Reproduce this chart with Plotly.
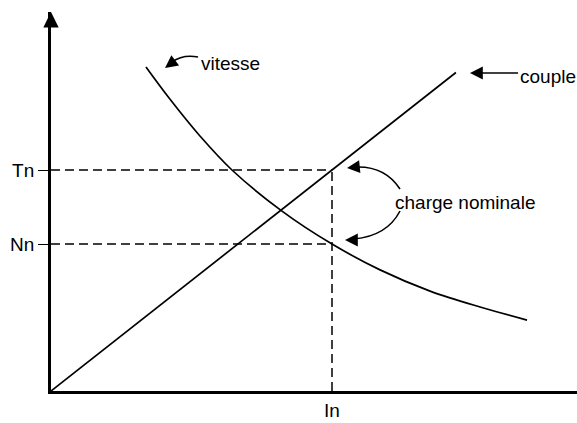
import plotly.graph_objects as go

# ---- data (normalised units: In = 1, Tn = 1) ----
I_n = 1.0
T_n = 1.0
N_n = 0.665

couple_I = [0.0, 1.441]
couple_T = [0.0, 1.441]

vitesse_I = [0.338, 0.423, 0.530, 0.644, 0.822, 1.000, 1.171, 1.349, 1.527, 1.694]
vitesse_N = [1.466, 1.321, 1.154, 1.000, 0.814, 0.665, 0.548, 0.452, 0.380, 0.321]

x_tick_vals = [I_n]
x_tick_text = ["In"]
y_tick_vals = [N_n, T_n]
y_tick_text = ["Nn", "Tn"]

# ---- layout geometry ----
W, H = 577, 423
ML, MR, MT, MB = 51, 0, 12, 32
PX_PER_X = 281.0
PX_PER_Y = 221.0
X_MAX = (W - ML - MR) / PX_PER_X
Y_MAX = (H - MT - MB) / PX_PER_Y


def dx(px):
    return (px - ML) / PX_PER_X


def dy(py):
    return (H - MB - py) / PX_PER_Y


FONT = "Arial, Liberation Sans, sans-serif"
FS = 19

fig = go.Figure()
fig.add_trace(go.Scatter(x=couple_I, y=couple_T, mode="lines",
                         line=dict(color="black", width=1.7),
                         hoverinfo="skip", showlegend=False))
fig.add_trace(go.Scatter(x=vitesse_I, y=vitesse_N, mode="lines",
                         line=dict(color="black", width=1.7, shape="spline", smoothing=1.0),
                         hoverinfo="skip", showlegend=False))

dash = dict(color="black", width=1.5, dash="9px,5px")
shapes = [
    dict(type="line", xref="x", yref="y", x0=0, y0=T_n, x1=I_n, y1=T_n, line=dash),
    dict(type="line", xref="x", yref="y", x0=0, y0=N_n, x1=I_n, y1=N_n, line=dash),
    dict(type="line", xref="x", yref="y", x0=I_n, y0=0, x1=I_n, y1=T_n, line=dash),
]


def qpath(p0, c, p1):
    return "M {},{} Q {},{} {},{}".format(dx(p0[0]), dy(p0[1]), dx(c[0]), dy(c[1]), dx(p1[0]), dy(p1[1]))


curve = dict(color="black", width=1.6)
# charge nominale arrows
shapes.append(dict(type="path", xref="x", yref="y", path=qpath((400, 189), (385, 166), (356, 167)), line=curve))
shapes.append(dict(type="path", xref="x", yref="y", path=qpath((400, 211), (387, 236), (354, 239)), line=curve))
# vitesse arrow
shapes.append(dict(type="path", xref="x", yref="y", path=qpath((198, 57), (183, 54), (172, 62)), line=curve))
# couple arrow
shapes.append(dict(type="line", xref="x", yref="y", x0=dx(518), y0=dy(73), x1=dx(478), y1=dy(73), line=curve))

annotations = []


def head(tx, ty, ax, ay, w=1.6, s=1.6):
    annotations.append(dict(x=dx(tx), y=dy(ty), xref="x", yref="y", ax=ax, ay=ay,
                            axref="pixel", ayref="pixel", text="", showarrow=True,
                            arrowhead=2, arrowsize=s, arrowwidth=w, arrowcolor="black", standoff=0))


head(347, 168, 10, -1)
head(345, 240, 10, 0)
head(165, 68, 8, -6)
head(470, 73, 10, 0)
# y axis arrow
annotations.append(dict(x=0, y=Y_MAX, xref="x", yref="y", ax=0, ay=14, text="", showarrow=True,
                        arrowhead=2, arrowsize=1.1, arrowwidth=2.8, arrowcolor="black", standoff=0))

txt = dict(family=FONT, size=FS, color="black")
annotations.append(dict(x=dx(199), y=dy(63), xref="x", yref="y", text="vitesse", showarrow=False,
                        xanchor="left", yanchor="middle", font=txt))
annotations.append(dict(x=dx(518), y=dy(76), xref="x", yref="y", text="couple", showarrow=False,
                        xanchor="left", yanchor="middle", font=txt))
annotations.append(dict(x=dx(393), y=dy(202), xref="x", yref="y", text="charge nominale", showarrow=False,
                        xanchor="left", yanchor="middle", font=txt))

fig.update_layout(
    width=W, height=H,
    margin=dict(l=ML, r=MR, t=MT, b=MB, pad=0),
    paper_bgcolor="white", plot_bgcolor="white",
    showlegend=False,
    shapes=shapes, annotations=annotations,
    font=txt,
    xaxis=dict(range=[0, X_MAX], showgrid=False, zeroline=False, showline=True,
               linecolor="black", linewidth=2.8, tickvals=x_tick_vals, ticktext=x_tick_text,
               ticks="", tickfont=txt, fixedrange=True),
    yaxis=dict(range=[0, Y_MAX], showgrid=False, zeroline=False, showline=True,
               linecolor="black", linewidth=2.8, tickvals=y_tick_vals, ticktext=y_tick_text,
               ticks="outside", ticklen=10, tickwidth=1.2, tickcolor="black",
               tickfont=txt, fixedrange=True),
)

fig.write_html(
    "out.html",
    config={"displayModeBar": False},
    post_script="document.body.style.margin='0';document.body.style.padding='0';"
                "document.body.style.overflow='hidden';document.documentElement.style.overflow='hidden';",
)
